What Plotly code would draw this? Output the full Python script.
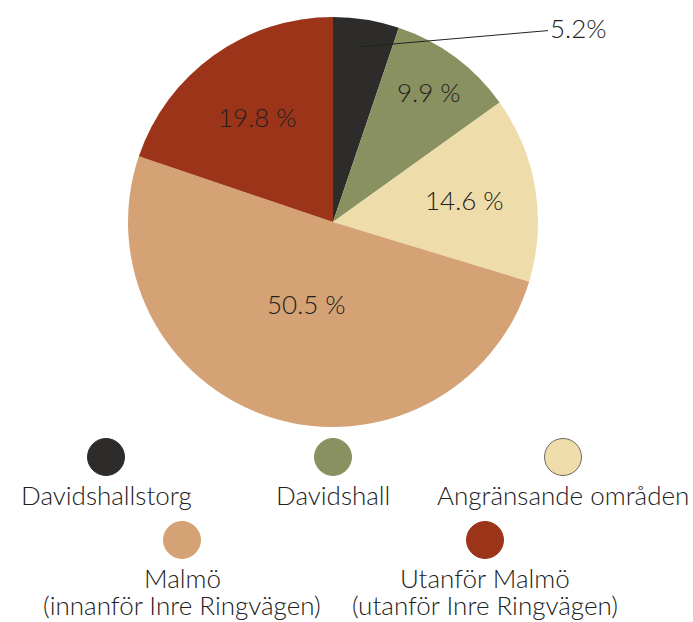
import math
import plotly.graph_objects as go

# Share of visitors by area of residence
categories = ["Davidshallstorg", "Davidshall", "Angränsande områden",
              "Malmö<br>(innanför Inre Ringvägen)",
              "Utanför Malmö<br>(utanför Inre Ringvägen)"]
values = [5.2, 9.9, 14.6, 50.5, 19.8]
colors = ["#2d2c2a", "#8a9160", "#eedcab", "#d4a274", "#9c3419"]

W, H = 693, 622
FONT = "Lato"
FSIZE = 26
TXT = "#222120"

# pie geometry in pixels
cx, cy, r = 333, 222, 205

fig = go.Figure()
fig.add_trace(go.Pie(
    labels=categories,
    values=values,
    sort=False,
    direction="clockwise",
    rotation=0,
    marker=dict(colors=colors, line=dict(width=0)),
    textinfo="none",
    hoverinfo="label+percent",
    showlegend=False,
    domain=dict(x=[(cx - r) / W, (cx + r) / W], y=[1 - (cy + r) / H, 1 - (cy - r) / H]),
))

annotations = []


def label(px, py, text, **kw):
    annotations.append(dict(
        x=px / W, y=1 - py / H, xref="paper", yref="paper",
        xanchor="center", yanchor="middle",
        text=text, showarrow=False,
        font=dict(family=FONT, size=FSIZE, color=TXT, weight=300),
        **kw,
    ))


# inside slice labels, placed along each slice's mid-angle
radial = [None, 0.79, 0.65, 0.42, 0.63]
cum = 0.0
total = sum(values)
for v, f in zip(values, radial):
    mid = (cum + v / 2) / total * 2 * math.pi
    cum += v
    if f is None:
        continue
    label(cx + f * r * math.sin(mid), cy - f * r * math.cos(mid), f"{v} %")

# small first slice: label outside with a leader line
annotations.append(dict(
    x=358 / W, y=1 - 47 / H, xref="paper", yref="paper",
    ax=220, ay=-19, axref="pixel", ayref="pixel",
    text=f"{values[0]}%", showarrow=True, arrowhead=0, arrowwidth=1,
    arrowcolor="#222", standoff=0,
    font=dict(family=FONT, size=FSIZE, color=TXT, weight=300),
))

# custom legend: a dot above each category name
legend_pos = [(106, 457, 495), (333, 457, 495), (563, 457, 495),
              (182, 540, 578), (485, 540, 578)]
line_gap = 27
shapes = []
dot_r = 18.5
for (lx, ly, ty), col, name in zip(legend_pos, colors, categories):
    shapes.append(dict(
        type="circle", xref="paper", yref="paper",
        x0=(lx - dot_r) / W, x1=(lx + dot_r) / W,
        y0=1 - (ly + dot_r) / H, y1=1 - (ly - dot_r) / H,
        fillcolor=col,
        line=dict(color="#6e6a60" if col == "#eedcab" else col, width=1),
    ))
    for i, part in enumerate(name.split("<br>")):
        label(lx, ty + i * line_gap, part)

fig.update_layout(
    width=W, height=H,
    margin=dict(l=0, r=0, t=0, b=0),
    paper_bgcolor="white",
    plot_bgcolor="white",
    shapes=shapes,
    annotations=annotations,
)

fig.write_html("out.html")
